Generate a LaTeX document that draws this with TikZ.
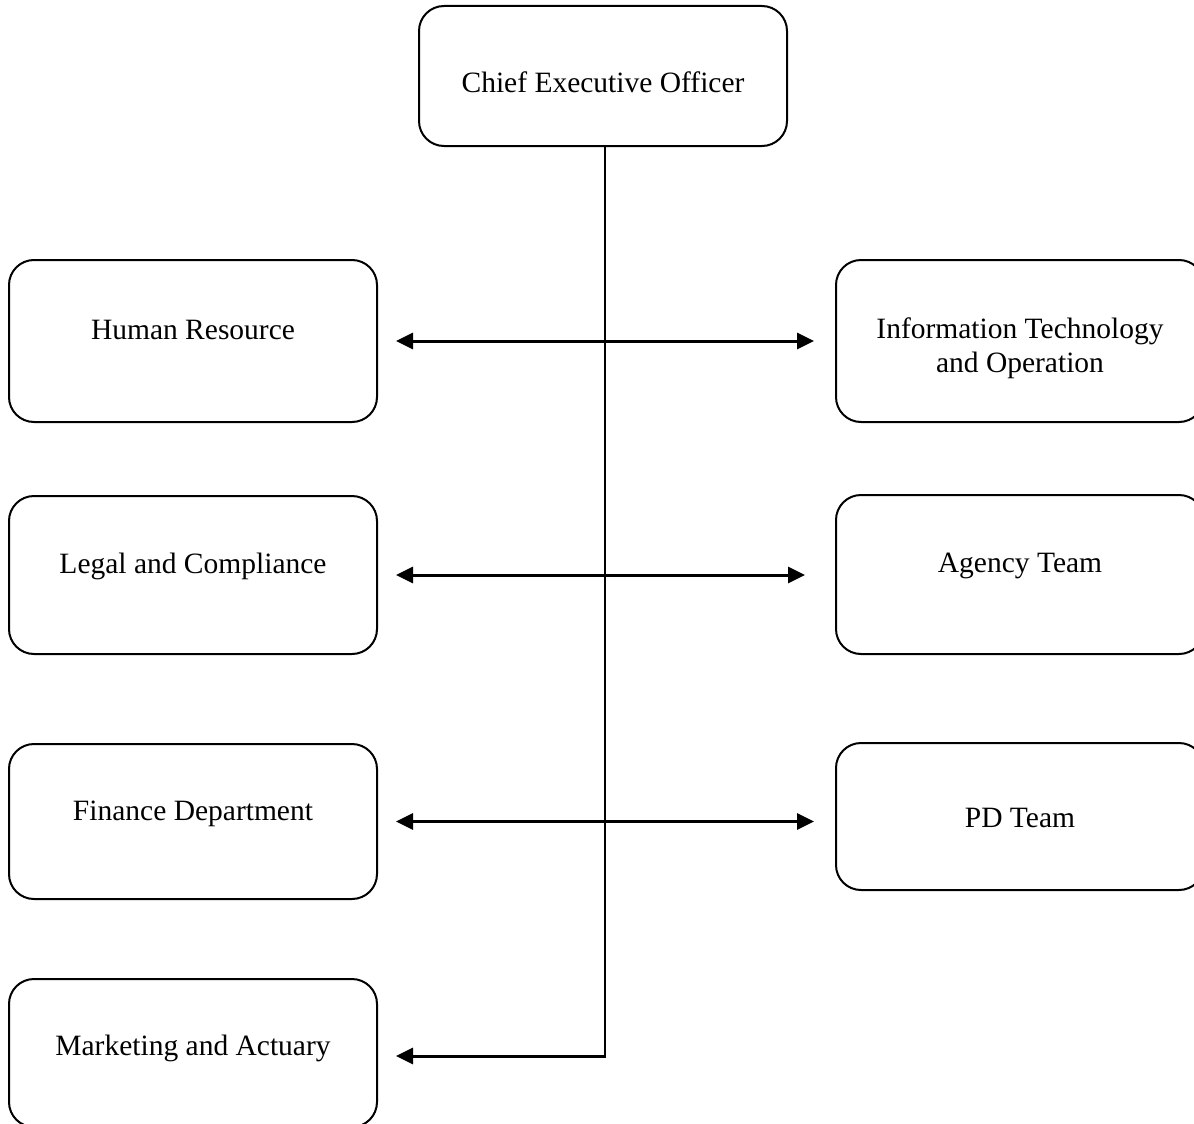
\documentclass[tikz,border=0pt]{standalone}
\usepackage{fontspec}
\setmainfont{Liberation Serif}
\usetikzlibrary{arrows.meta}
\begin{document}
\begin{tikzpicture}[x=1pt,y=-1pt,
  box/.style={draw, line width=2pt, rounded corners=25pt, inner sep=0pt, minimum width=368pt},
  lbl/.style={font=\fontsize{29.5}{34}\selectfont, align=center, inner sep=0pt},
  trunk/.style={line width=2.2pt},
  conn/.style={line width=3pt, -{Triangle[length=17pt,width=16pt]}},
  biconn/.style={line width=3pt, {Triangle[length=17pt,width=16pt]}-{Triangle[length=17pt,width=16pt]}}
]
\useasboundingbox (0,0) rectangle (1194,1124);
\fill[white] (0,0) rectangle (1194,1124);
\begin{scope}
\clip (0,0) rectangle (1194,1124);
% boxes
\node[box, minimum height=140pt] (ceo) at (603,76) {};
\node[box, minimum height=162pt] (hr) at (193,341) {};
\node[box, minimum height=158pt] (legal) at (193,575) {};
\node[box, minimum height=155pt] (fin) at (193,821.5) {};
\node[box, minimum height=148pt] (mkt) at (193,1053) {};
\node[box, minimum height=162pt] (it) at (1020,341) {};
\node[box, minimum height=159pt] (agency) at (1020,574.5) {};
\node[box, minimum height=147pt] (pd) at (1020,816.5) {};
% labels
\node[lbl] (ceoT) at (603,82) {Chief Executive Officer};
\node[lbl] (hrT) at (193,330) {Human Resource};
\node[lbl] (legalT) at (193,566) {Legal and Compliance};
\node[lbl] (finT) at (193,814) {Finance Department};
\node[lbl] (mktT) at (193,1048) {Marketing and Actuary};
\node[lbl] (itT) at (1020,348) {Information Technology\\and Operation};
\node[lbl] (agencyT) at (1020,566) {Agency Team};
\node[lbl] (pdT) at (1020,818) {PD Team};
% connectors
\coordinate (vend) at (605,1056);
\draw[trunk] (ceo.south -| vend) -- (vend);
\draw[biconn, shorten <=18pt, shorten >=21pt] (hr.east) -- (hr.east -| it.west);
\draw[biconn, shorten <=18pt, shorten >=30pt] (legal.east) -- (legal.east -| agency.west);
\draw[biconn, shorten <=18pt, shorten >=21pt] (fin.east) -- (fin.east -| pd.west);
\draw[conn, shorten >=18pt] ([xshift=1pt]vend) -- (vend -| mkt.east);
\end{scope}
\end{tikzpicture}
\end{document}
